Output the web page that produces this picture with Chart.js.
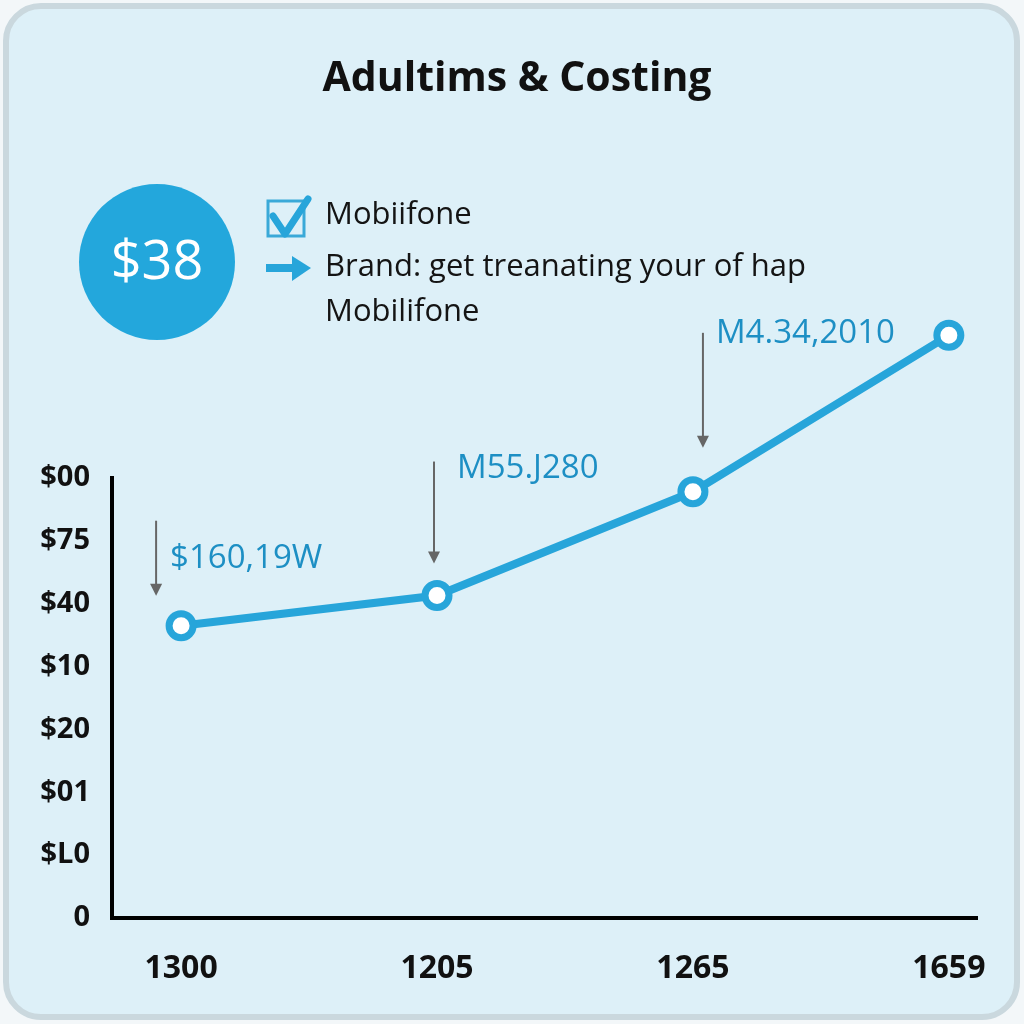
<!DOCTYPE html>
<html>
<head>
<meta charset="utf-8">
<script src="https://cdn.jsdelivr.net/npm/chart.js@4"></script>
<style>
  body { margin: 0; background: #f3f7f9; }
  #frame {
    position: absolute; left: 3px; top: 3px; width: 1017px; height: 1017px;
    box-sizing: border-box; border: 6px solid #cad8de; border-radius: 38px;
    background: #ddf0f8;
  }
  #c { position: absolute; left: 0; top: 0; }
</style>
</head>
<body>
<div id="frame"></div>
<canvas id="c" width="1024" height="1024"></canvas>
<script>
// chart data
const xLabels = ['1300', '1205', '1265', '1659'];
const yValues = [4.65, 5.13, 6.78, 9.27];
const yTickLabels = ['0', '$L0', '$01', '$20', '$10', '$40', '$75', '$00'];
const calloutLabels = ['$160,19W', 'M55.J280', 'M4.34,2010'];
const titleText = 'Adultims & Costing';
const badgeText = '$38';
const legendLines = ['Mobiifone', 'Brand: get treanating your of hap', 'Mobilifone'];

const BLUE = '#27a5da';
const TEXT_BLUE = '#1d8fc4';

// arrow + label offsets relative to each point (pixels)
const calloutStyle = [
  { ax: -25, ay1: -105, ay2: -30, lx: -11, ly: -67 },
  { ax: -3, ay1: -134, ay2: -32, lx: 20, ly: -127 },
  { ax: 10, ay1: -159, ay2: -44, lx: 23, ly: -158 }
];

const calloutPlugin = {
  id: 'callouts',
  afterDatasetsDraw(chart) {
    const ctx = chart.ctx;
    const pts = chart.getDatasetMeta(0).data;
    // points above the axis top are skipped by the library, draw them here
    const full = { left: 0, top: 0, right: chart.width, bottom: chart.height };
    pts.forEach(p => { if (p.y < chart.chartArea.top) p.draw(ctx, full); });
    ctx.save();
    calloutLabels.forEach((txt, i) => {
      const p = pts[i], s = calloutStyle[i];
      const ax = p.x + s.ax;
      ctx.strokeStyle = '#666';
      ctx.fillStyle = '#666';
      ctx.lineWidth = 2;
      ctx.beginPath();
      ctx.moveTo(ax, p.y + s.ay1);
      ctx.lineTo(ax, p.y + s.ay2 - 8);
      ctx.stroke();
      ctx.beginPath();
      ctx.moveTo(ax - 6, p.y + s.ay2 - 12);
      ctx.lineTo(ax + 6, p.y + s.ay2 - 12);
      ctx.lineTo(ax, p.y + s.ay2);
      ctx.closePath();
      ctx.fill();
      ctx.font = '33px "Open Sans"';
      ctx.fillStyle = TEXT_BLUE;
      ctx.textAlign = 'left';
      ctx.textBaseline = 'middle';
      ctx.fillText(txt, p.x + s.lx, p.y + s.ly);
    });
    ctx.restore();
  }
};

const headerPlugin = {
  id: 'header',
  afterDraw(chart) {
    const ctx = chart.ctx;
    ctx.save();
    // title
    ctx.fillStyle = '#111';
    ctx.font = 'bold 41px "Open Sans"';
    ctx.textAlign = 'center';
    ctx.textBaseline = 'middle';
    ctx.fillText(titleText, 517, 79);
    // badge
    ctx.fillStyle = '#23a7dc';
    ctx.beginPath();
    ctx.arc(157, 262, 78, 0, Math.PI * 2);
    ctx.fill();
    ctx.fillStyle = '#fff';
    ctx.font = '54px "Open Sans"';
    ctx.fillText(badgeText, 157, 264);
    // checkbox icon
    ctx.strokeStyle = '#3aa9d8';
    ctx.lineWidth = 3;
    ctx.strokeRect(268, 201, 36, 35);
    ctx.strokeStyle = BLUE;
    ctx.lineWidth = 7;
    ctx.lineCap = 'round';
    ctx.lineJoin = 'round';
    ctx.beginPath();
    ctx.moveTo(273, 216);
    ctx.lineTo(285, 234);
    ctx.lineTo(308, 199);
    ctx.stroke();
    // arrow icon
    ctx.lineCap = 'butt';
    ctx.lineWidth = 8;
    ctx.beginPath();
    ctx.moveTo(266, 268);
    ctx.lineTo(296, 268);
    ctx.stroke();
    ctx.fillStyle = BLUE;
    ctx.beginPath();
    ctx.moveTo(292, 256);
    ctx.lineTo(311, 268);
    ctx.lineTo(292, 281);
    ctx.closePath();
    ctx.fill();
    // legend text
    ctx.fillStyle = '#141414';
    ctx.font = '31px "Open Sans"';
    ctx.textAlign = 'left';
    legendLines.forEach((t, i) => {
      ctx.fillText(t, 325, [215, 267, 312][i]);
    });
    ctx.restore();
  }
};

Chart.defaults.font.family = '"Open Sans"';

new Chart(document.getElementById('c'), {
  type: 'line',
  data: {
    datasets: [{
      data: xLabels.map((_, i) => ({ x: i, y: yValues[i] })),
      borderColor: BLUE,
      borderWidth: 8,
      pointRadius: 12,
      pointBorderWidth: 7,
      pointBackgroundColor: '#fff',
      pointBorderColor: BLUE,
      pointHoverRadius: 12,
      tension: 0,
      clip: false
    }]
  },
  options: {
    responsive: false,
    animation: false,
    devicePixelRatio: 1,
    layout: { padding: { left: 12, right: 47, top: 478, bottom: 36 } },
    plugins: {
      legend: { display: false },
      tooltip: { enabled: false },
      title: { display: false }
    },
    scales: {
      x: {
        type: 'linear',
        min: -0.27,
        max: 3.11,
        grid: { display: false },
        border: { display: true, color: '#000', width: 4 },
        ticks: {
          padding: 24,
          color: '#111',
          font: { size: 32, weight: 'bold' },
          maxRotation: 0,
          callback: v => xLabels[v]
        },
        afterBuildTicks: s => { s.ticks = xLabels.map((_, i) => ({ value: i })); },
        afterFit: s => { s.height = 70; s.paddingLeft = 0; s.paddingRight = 0; }
      },
      y: {
        min: 0,
        max: 7,
        grid: { display: false },
        border: { display: true, color: '#000', width: 4 },
        ticks: {
          padding: 14,
          color: '#111',
          font: { size: 29, weight: 'bold' },
          callback: v => yTickLabels[v]
        },
        afterBuildTicks: s => { s.ticks = yTickLabels.map((_, i) => ({ value: i })); },
        afterFit: s => { s.width = 100; s.paddingTop = 0; s.paddingBottom = 0; }
      }
    }
  },
  plugins: [calloutPlugin, headerPlugin]
});
</script>
</body>
</html>
